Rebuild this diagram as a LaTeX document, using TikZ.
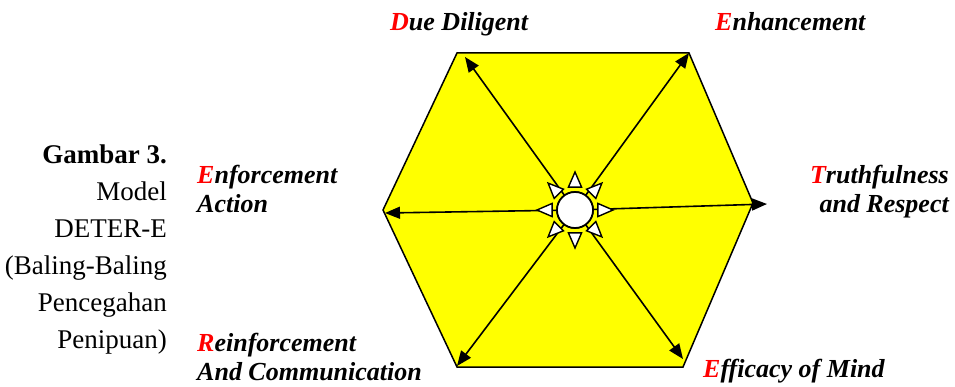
\documentclass[tikz,border=0pt]{standalone}
\usepackage{fontspec}
\setmainfont{Liberation Serif}
\usepackage{tikz}
\usetikzlibrary{arrows.meta,calc,positioning}
\usepackage{xcolor}
\definecolor{ink}{HTML}{000000}
\definecolor{sun}{HTML}{FFFF00}
\definecolor{lead}{HTML}{FF0000}
\newcommand{\redcap}[1]{\textcolor{lead}{#1}}
\tikzset{hexface/.style={draw=ink,fill=sun,line width=1.5pt,line join=miter},spoke/.style={draw=ink,line width=1.6pt,-{Triangle[length=15pt,width=12pt]}},ray/.style={draw=ink,fill=white,line width=1.4pt,line join=miter},hub/.style={circle,draw=ink,fill=white,line width=1.7pt,minimum size=36pt,inner sep=0pt},tag/.style={font=\fontsize{26}{29}\selectfont\bfseries\itshape,inner sep=0pt,align=left},caption/.style={font=\fontsize{27}{37}\selectfont,inner sep=0pt,align=right}}

\begin{document}
\begin{tikzpicture}[x=1pt,y=-1pt]
\useasboundingbox (0,0) rectangle (955,387);
\coordinate (vTL) at (457,53);
\coordinate (vTR) at (689,53);
\coordinate (vR) at (753,203);
\coordinate (vBR) at (683,367);
\coordinate (vBL) at (457,367);
\coordinate (vL) at (383,210);
\draw[hexface] (vTL)--(vTR)--(vR)--(vBR)--(vBL)--(vL)--cycle;
\node[hub] (hub) at (575,210) {};
\coordinate (tDue) at (465,57);
\coordinate (tEnh) at (689,53);
\coordinate (tTru) at (767,204);
\coordinate (tEff) at (683,359);
\coordinate (tRei) at (457,366);
\coordinate (tEnf) at (385,213);
\foreach \t in {tDue,tEnh,tTru,tEff,tRei,tEnf}
  \draw[spoke] (hub.center)--(\t);
\foreach \a in {0,45,...,315}
  \draw[ray] ($(hub.center)+(\a:38)$)--($(hub.center)+(\a+16:23.8)$)--($(hub.center)+(\a-16:23.8)$)--cycle;
\node[hub] at (hub.center) {};
\node[tag,anchor=base west] (due) at (390,31) {\redcap{D}ue Diligent};
\node[tag,anchor=base west] (enh) at (715,31) {\redcap{E}nhancement};
\node[tag,anchor=base east,align=right] (tru) at (949,213) {\redcap{T}ruthfulness\\and Respect};
\node[tag,anchor=base west] (eff) at (703,377) {\redcap{E}fficacy of Mind};
\node[tag,anchor=base west] (rei) at (197,380) {\redcap{R}einforcement\\And Communication};
\node[tag,anchor=base west] (enf) at (197,213) {\redcap{E}nforcement\\Action};
\node[caption,anchor=base east] (cap) at (167,348) {\textbf{Gambar 3.}\\Model\\DETER-E\\(Baling-Baling\\Pencegahan\\Penipuan)};
\end{tikzpicture}
\end{document}
